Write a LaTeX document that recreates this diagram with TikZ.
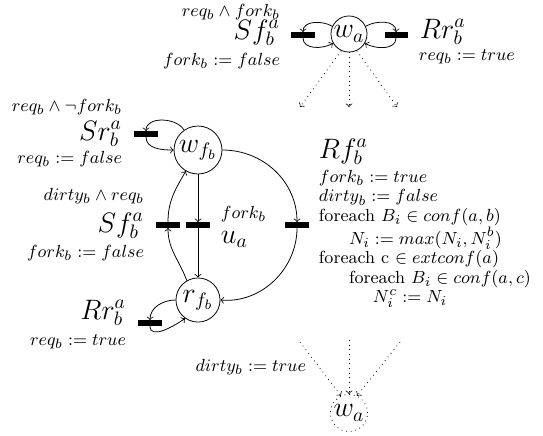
\documentclass[tikz,border=0pt]{standalone}
\DeclareMathSizes{9}{9}{7}{5}
\begin{document}
\begin{tikzpicture}[x=0.5128pt,y=-0.5128pt,
  place/.style={circle,draw,inner sep=0pt,font=\Large},
  trans/.style={fill=black,minimum width=11.8pt,minimum height=2.6pt,inner sep=0pt},
  big/.style={font=\Large,inner sep=0.3pt},
  sm/.style={inner sep=0.3pt,font=\fontsize{9}{10}\selectfont},
  dotarrow/.style={dotted,->}]
\useasboundingbox (0,0) rectangle (543,435);

% places and transitions
\node[place,minimum size=18.5pt] (wa) at (349,34) {$w_a$};
\node[trans] (tsf) at (303,35) {};
\node[trans] (trr) at (396,35) {};
\node[place,minimum size=24.6pt] (wf) at (198,150) {$w_{f_b}$};
\node[trans] (tsr) at (146,134) {};
\node[trans] (tsf2) at (168,225) {};
\node[trans] (tua) at (198,225) {};
\node[trans] (trf) at (297,225) {};
\node[place,minimum size=22.6pt] (rf) at (198,300) {$r_{f_b}$};
\node[trans] (trr2) at (150,323) {};
\node[place,dotted,minimum size=19pt] (wb) at (349,413) {$w_a$};

% labels top
\node[sm,anchor=base east] (l1) at (281,16) {$req_b \wedge fork_b$};
\node[big,anchor=base east] (l2) at (281,39) {$Sf_b^a$};
\node[sm,anchor=base east] (l3) at (281,65) {$fork_b := false$};
\node[big,anchor=base west] (l4) at (419,38) {$Rr_b^a$};
\node[sm,anchor=base west] (l5) at (418,60) {$req_b := true$};

% labels left
\node[sm,anchor=base east] (l6) at (123,111) {$req_b \wedge \neg fork_b$};
\node[big,anchor=base east] (l7) at (123,140) {$Sr_b^a$};
\node[sm,anchor=base east] (l8) at (123,163) {$req_b := false$};
\node[sm,anchor=base east] (l9) at (145,200) {$dirty_b \wedge req_b$};
\node[big,anchor=base east] (l10) at (145,232) {$Sf_b^a$};
\node[sm,anchor=base east] (l11) at (145,257) {$fork_b := false$};
\node[big,anchor=base east] (l12) at (127,319) {$Rr_b^a$};
\node[sm,anchor=base east] (l13) at (127,345) {$req_b := true$};

% u_a
\node[sm,anchor=base west] (l14) at (220,218) {$fork_b$};
\node[big,anchor=base west] (l15) at (220,243) {$u_a$};

% Rf
\node[big,anchor=base west] (l16) at (318,158) {$Rf_b^a$};
\node[sm,anchor=north west,align=left] (l17) at (318,169)
  {$fork_b := true$\\
   $dirty_b := false$\\
   foreach $B_i \in conf(a,b)$\\
   \hspace{15.4pt}$N_i := max(N_i, N_i^b)$\\
   foreach c $\in extconf(a)$\\
   \hspace{15.4pt}foreach $B_i \in conf(a,c)$\\
   \hspace{27.7pt}$N_i^c := N_i$};

\node[sm,anchor=base east] (l18) at (307,371) {$dirty_b := true$};

% top loops
\draw[->] (wa.155) to[out=150,in=90] (tsf.north);
\draw[->] (tsf.south) to[out=-90,in=210] (wa.210);
\draw[->] (wa.25) to[out=30,in=90] (trr.north);
\draw[->] (trr.south) to[out=-90,in=-30] (wa.-30);

% top dotted
\coordinate (d1) at (300,107);
\coordinate (d2) at (349,107);
\coordinate (d3) at (397,107);
\draw[dotarrow] (wa.-115) -- (d1);
\draw[dotarrow] (wa.-90) -- (d2);
\draw[dotarrow] (wa.-65) -- (d3);

% Sr loop
\draw[->] (wf.125) to[out=120,in=90] (tsr.north);
\draw[->] (tsr.south) to[out=-90,in=180] (wf.180);

% main cycle
\draw[->] (wf.east) to[out=0,in=90] (trf.north);
\draw[->] (trf.south) to[out=-90,in=-5] (rf.east);
\draw[->] (wf.south) -- (tua.north);
\draw[->] (tua.south) -- (rf.north);
\draw[->] (rf.120) to[out=110,in=-90] (tsf2.south);
\draw[->] (tsf2.north) to[out=90,in=240] (wf.240);

% Rr loop
\draw[->] (rf.180) to[out=180,in=90] (trr2.north);
\draw[->] (trr2.south) to[out=-90,in=215] (rf.235);

% bottom dotted
\coordinate (e1) at (300,342);
\coordinate (e2) at (349,340);
\coordinate (e3) at (400,342);
\draw[dotarrow] (e1) -- (wb.115);
\draw[dotarrow] (e2) -- (wb.north);
\draw[dotarrow] (e3) -- (wb.65);
\end{tikzpicture}
\end{document}
